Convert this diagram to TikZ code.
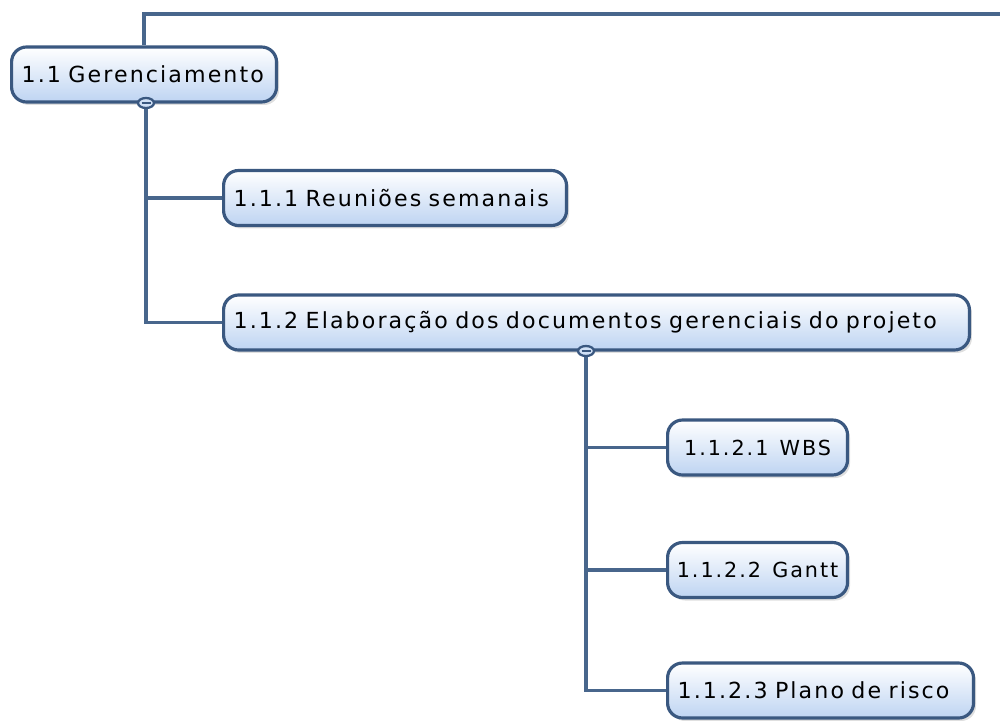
\documentclass[tikz,border=0pt]{standalone}
\usepackage{fontspec}
\newfontfamily\boxfont[LetterSpace=9.5,WordSpace=1.3]{DejaVu Sans}
\usetikzlibrary{shapes.geometric,shadows}
\definecolor{wbsline}{RGB}{72,102,140}
\definecolor{wbsborder}{RGB}{58,88,128}
\definecolor{wbsfill}{RGB}{190,212,242}

\begin{document}
\begin{tikzpicture}[x=0.02cm,y=-0.02cm]
  \tikzstyle{every node}=[font=\boxfont\fontsize{12.6}{14}\selectfont]
  \tikzstyle{task}=[draw=wbsborder,line width=1.8pt,rounded corners=8.5pt,
    top color=white,bottom color=wbsfill,minimum height=1.1cm,inner xsep=0.2cm,
    align=left,anchor=west,
    drop shadow={opacity=0.25,shadow xshift=0.05cm,shadow yshift=-0.06cm}]
  \tikzstyle{small task}=[task,minimum width=3.6cm,inner xsep=0.1cm,
    font=\boxfont\fontsize{11.8}{14}\selectfont]
  \tikzstyle{fold}=[draw=wbsborder,line width=1.3pt,ellipse,fill=wbsfill!70,
    minimum width=0.32cm,minimum height=0.2cm,inner sep=0pt]
  \tikzstyle{link}=[draw=wbsline,line width=1.9pt]
  \useasboundingbox (0,0) rectangle (1000,720);
  \node[task,text width=4.9cm] (g) at (10,74.5) {1.1 Gerenciamento};
  \node[task,text width=6.46cm] (r) at (222,198) {1.1.1 Reuniões semanais};
  \node[task,text width=14.52cm] (d) at (222,322.5) {1.1.2 Elaboração dos documentos gerenciais do projeto};
  \node[small task] (w) at (666,447.5) {1.1.2.1 WBS};
  \node[small task] (gt) at (666,570) {1.1.2.2 Gantt};
  \node[task,text width=5.72cm] (p) at (666,690.5) {1.1.2.3 Plano de risco};
  \coordinate (top) at (1000,14);
  \node[fold] (m1) at (146,103) {};
  \node[fold] (m2) at (586,351) {};
  \path[link]
    (g.north) |- (top)
    (m1.south) |- (r.west)
    (m1.south) |- (d.west)
    (m2.south) |- (w.west)
    (m2.south) |- (gt.west)
    (m2.south) |- (p.west);
  \draw[wbsborder,line width=1.3pt]
    ([xshift=-0.09cm]m1.center) -- ([xshift=0.09cm]m1.center)
    ([xshift=-0.09cm]m2.center) -- ([xshift=0.09cm]m2.center);
\end{tikzpicture}
\end{document}
